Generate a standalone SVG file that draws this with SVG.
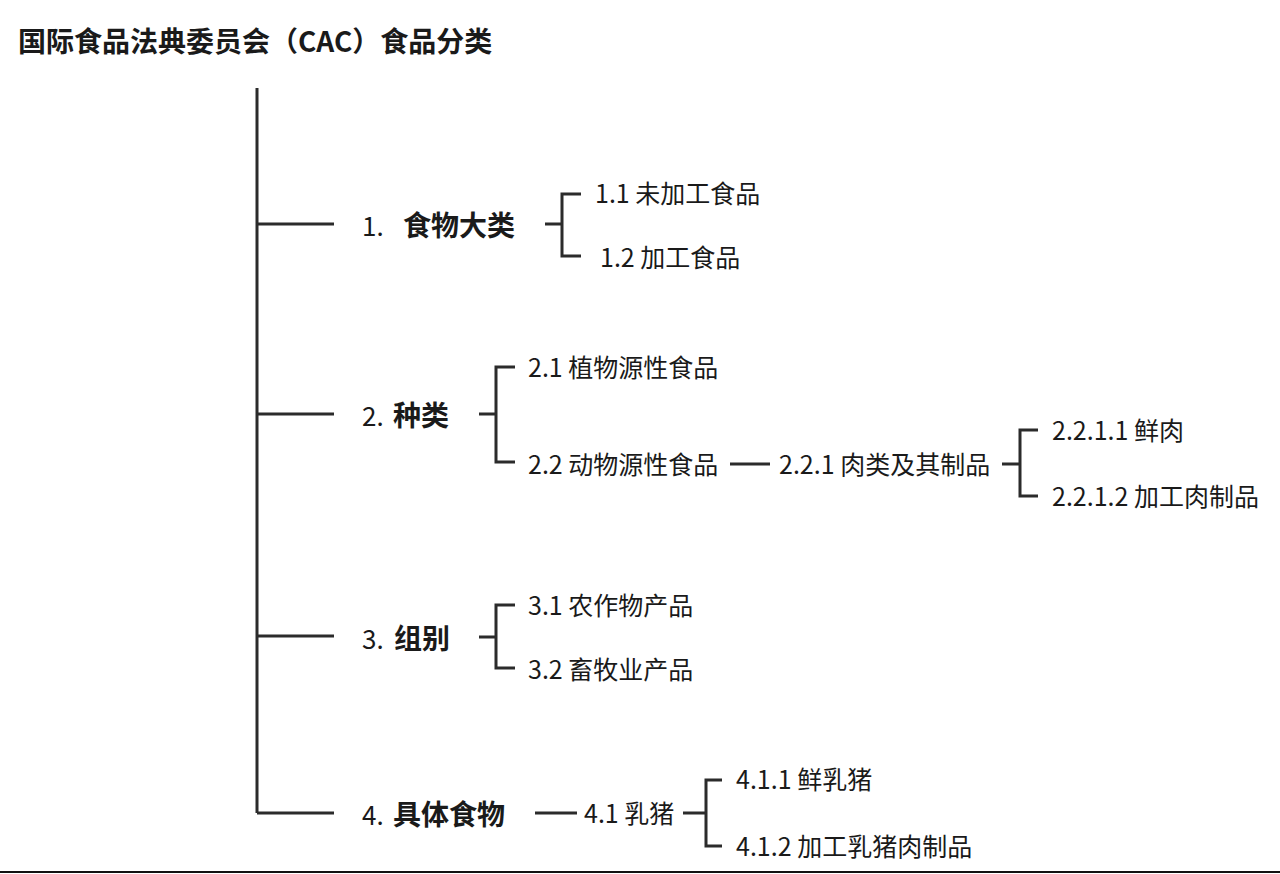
<svg xmlns="http://www.w3.org/2000/svg" width="1280" height="874" viewBox="0 0 1280 874">
<style>
text{font-family:"Noto Sans CJK SC","Noto Sans",sans-serif;fill:#1a1a1a;dominant-baseline:central}
.t{font-size:28px;font-weight:700}
.n{font-size:26px}
.b{font-size:28px;font-weight:700}
.s{font-size:25px}
.c path,.c line{stroke:#2b2b2b;stroke-width:3;fill:none}
</style>
<rect width="1280" height="874" fill="#fff"/>
<text class="t" x="18" y="40">国际食品法典委员会（CAC）食品分类</text>
<g class="c" id="connectors">
<line x1="257" y1="88" x2="257" y2="813"/>
<line x1="256" y1="224" x2="334" y2="224"/>
<line x1="256" y1="414" x2="334" y2="414"/>
<line x1="256" y1="636" x2="334" y2="636"/>
<path d="M257 813H334"/>
<path d="M545 224H562M581 194H562V256H581"/>
<path d="M479 414H496M515 367H496V462H515"/>
<path d="M730 464H770"/>
<path d="M1002 464H1020M1038 430H1020V496H1038"/>
<path d="M479 637H496M515 605H496V668H515"/>
<path d="M535 813H577"/>
<path d="M683 813H706M722 780H706V846H722"/>
<line x1="0" y1="872" x2="1280" y2="872" style="stroke:#111;stroke-width:2"/>
</g>
<g id="n1"><text class="n" x="362" y="224">1.</text><text class="b" x="403" y="224">食物大类</text></g>
<g id="n1-1"><text class="s" x="595" y="192">1.1 未加工食品</text></g>
<g id="n1-2"><text class="s" x="600" y="256">1.2 加工食品</text></g>
<g id="n2"><text class="n" x="362" y="414">2.</text><text class="b" x="393" y="414">种类</text></g>
<g id="n2-1"><text class="s" x="528" y="366">2.1 植物源性食品</text></g>
<g id="n2-2"><text class="s" x="528" y="463">2.2 动物源性食品</text></g>
<g id="n2-2-1"><text class="s" x="779" y="463">2.2.1 肉类及其制品</text></g>
<g id="n2-2-1-1"><text class="s" x="1052" y="429">2.2.1.1 鲜肉</text></g>
<g id="n2-2-1-2"><text class="s" x="1052" y="495">2.2.1.2 加工肉制品</text></g>
<g id="n3"><text class="n" x="362" y="637">3.</text><text class="b" x="394" y="637">组别</text></g>
<g id="n3-1"><text class="s" x="528" y="604">3.1 农作物产品</text></g>
<g id="n3-2"><text class="s" x="528" y="668">3.2 畜牧业产品</text></g>
<g id="n4"><text class="n" x="362" y="813">4.</text><text class="b" x="393" y="813">具体食物</text></g>
<g id="n4-1"><text class="s" x="584" y="812">4.1 乳猪</text></g>
<g id="n4-1-1"><text class="s" x="736" y="778">4.1.1 鲜乳猪</text></g>
<g id="n4-1-2"><text class="s" x="736" y="845">4.1.2 加工乳猪肉制品</text></g>
</svg>
